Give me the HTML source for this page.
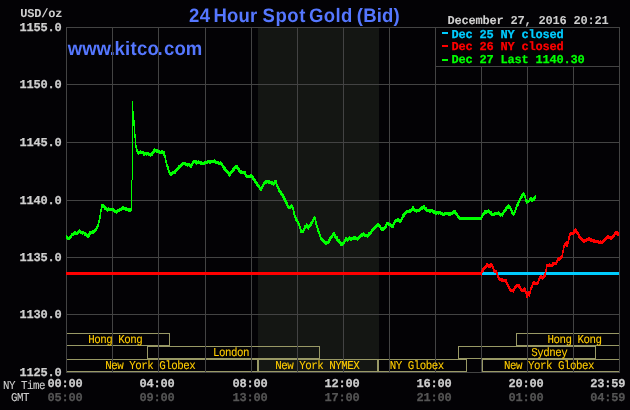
<!DOCTYPE html>
<html lang="en">
<head>
<meta charset="utf-8">
<title>24 Hour Spot Gold (Bid)</title>
<style>
html,body{margin:0;padding:0;background:#030205;}
svg{display:block;}
text{text-rendering:geometricPrecision;}
.b7{font-family:"Liberation Mono",monospace;font-weight:bold;font-size:12px;letter-spacing:-0.2px;stroke-width:0.25px;}
.r7{font-family:"Liberation Mono",monospace;font-size:12px;letter-spacing:-0.2px;stroke-width:0.3px;}
.r6{font-family:"Liberation Mono",monospace;font-size:12px;letter-spacing:-0.533px;stroke-width:0.1px;}
.ttl{font-family:"Liberation Sans",Arial,sans-serif;font-weight:bold;}
</style>
</head>
<body>
<svg width="630" height="410" viewBox="0 0 630 410">
<rect x="0" y="0" width="630" height="410" fill="#030205"/>
<rect x="258" y="28" width="121" height="344" fill="#141613" shape-rendering="crispEdges"/>
<text class="ttl" transform="scale(0.95 1)" y="55" font-size="19.5" fill="#5577ff"><tspan x="71.37">www</tspan><tspan x="115.47">.</tspan><tspan x="120.42" letter-spacing="0.34">kitco</tspan><tspan x="165.89">.</tspan><tspan x="172.74">com</tspan></text>
<g stroke="#434343" stroke-width="1" shape-rendering="crispEdges" fill="none">
<line x1="66" y1="27.5" x2="620" y2="27.5"/>
<line x1="66" y1="84.5" x2="620" y2="84.5"/>
<line x1="66" y1="142.5" x2="620" y2="142.5"/>
<line x1="66" y1="200.5" x2="620" y2="200.5"/>
<line x1="66" y1="257.5" x2="620" y2="257.5"/>
<line x1="66" y1="314.5" x2="620" y2="314.5"/>
<line x1="66" y1="372.5" x2="620" y2="372.5"/>
</g>
<g stroke="#999966" stroke-width="1" shape-rendering="crispEdges" fill="none">
<rect x="66.5" y="333.5" width="103" height="12"/>
<rect x="516.5" y="333.5" width="103" height="12"/>
<rect x="147.5" y="346.5" width="172" height="12"/>
<rect x="458.5" y="346.5" width="137" height="12"/>
<rect x="66.5" y="359.5" width="191" height="12"/>
<rect x="258.5" y="359.5" width="119" height="12"/>
<rect x="378.5" y="359.5" width="88" height="12"/>
<rect x="482.5" y="359.5" width="137" height="12"/>
</g>
<g stroke="#434343" stroke-width="1" shape-rendering="crispEdges" fill="none">
<line x1="66.5" y1="27" x2="66.5" y2="373"/>
<line x1="112.5" y1="27" x2="112.5" y2="373"/>
<line x1="158.5" y1="27" x2="158.5" y2="373"/>
<line x1="205.5" y1="27" x2="205.5" y2="373"/>
<line x1="251.5" y1="27" x2="251.5" y2="373"/>
<line x1="297.5" y1="27" x2="297.5" y2="373"/>
<line x1="343.5" y1="27" x2="343.5" y2="373"/>
<line x1="389.5" y1="27" x2="389.5" y2="373"/>
<line x1="435.5" y1="27" x2="435.5" y2="373"/>
<line x1="481.5" y1="27" x2="481.5" y2="373"/>
<line x1="527.5" y1="27" x2="527.5" y2="373"/>
<line x1="573.5" y1="27" x2="573.5" y2="373"/>
<line x1="619.5" y1="27" x2="619.5" y2="373"/>
</g>
<text class="ttl" transform="scale(0.95 1)" y="22" font-size="19.5" fill="#5577ff"><tspan x="198.95" letter-spacing="0.42">24</tspan> <tspan x="224.63" letter-spacing="0.21">Hour</tspan> <tspan x="276.32" letter-spacing="0.63">Spot</tspan> <tspan x="325.26" letter-spacing="0.39">Gold</tspan> <tspan x="375.58" letter-spacing="0.18">(Bid)</tspan></text>
<text class="r6" transform="translate(88.2 342.9) scale(0.9 1)" fill="#ffcc00" stroke="#ffcc00">Hong Kong</text>
<text class="r6" transform="translate(547.5 342.9) scale(0.9 1)" fill="#ffcc00" stroke="#ffcc00">Hong Kong</text>
<text class="r6" transform="translate(213 355.9) scale(0.9 1)" fill="#ffcc00" stroke="#ffcc00">London</text>
<text class="r6" transform="translate(531.3 355.9) scale(0.9 1)" fill="#ffcc00" stroke="#ffcc00">Sydney</text>
<text class="r6" transform="translate(105.3 368.9) scale(0.9 1)" fill="#ffcc00" stroke="#ffcc00">New York Globex</text>
<text class="r6" transform="translate(275.3 368.9) scale(0.9 1)" fill="#ffcc00" stroke="#ffcc00">New York NYMEX</text>
<text class="r6" transform="translate(389.7 368.9) scale(0.9 1)" fill="#ffcc00" stroke="#ffcc00">NY Globex</text>
<text class="r6" transform="translate(504.1 368.9) scale(0.9 1)" fill="#ffcc00" stroke="#ffcc00">New York Globex</text>
<text class="b7" x="19.5" y="30.9" fill="#cecece" stroke="#cecece">1155.0</text>
<text class="b7" x="19.5" y="87.9" fill="#cecece" stroke="#cecece">1150.0</text>
<text class="b7" x="19.5" y="145.9" fill="#cecece" stroke="#cecece">1145.0</text>
<text class="b7" x="19.5" y="203.9" fill="#cecece" stroke="#cecece">1140.0</text>
<text class="b7" x="19.5" y="260.9" fill="#cecece" stroke="#cecece">1135.0</text>
<text class="b7" x="19.5" y="317.9" fill="#cecece" stroke="#cecece">1130.0</text>
<text class="b7" x="19.5" y="375.9" fill="#cecece" stroke="#cecece">1125.0</text>
<text class="b7" x="47.5" y="386.9" fill="#cecece" stroke="#cecece">00:00</text>
<text class="b7" x="47.5" y="400.9" fill="#555555" stroke="#555555">05:00</text>
<text class="b7" x="139.5" y="386.9" fill="#cecece" stroke="#cecece">04:00</text>
<text class="b7" x="139.5" y="400.9" fill="#555555" stroke="#555555">09:00</text>
<text class="b7" x="232.5" y="386.9" fill="#cecece" stroke="#cecece">08:00</text>
<text class="b7" x="232.5" y="400.9" fill="#555555" stroke="#555555">13:00</text>
<text class="b7" x="324.5" y="386.9" fill="#cecece" stroke="#cecece">12:00</text>
<text class="b7" x="324.5" y="400.9" fill="#555555" stroke="#555555">17:00</text>
<text class="b7" x="416.5" y="386.9" fill="#cecece" stroke="#cecece">16:00</text>
<text class="b7" x="416.5" y="400.9" fill="#555555" stroke="#555555">21:00</text>
<text class="b7" x="508.5" y="386.9" fill="#cecece" stroke="#cecece">20:00</text>
<text class="b7" x="508.5" y="400.9" fill="#555555" stroke="#555555">01:00</text>
<text class="b7" x="590.3" y="386.9" fill="#cecece" stroke="#cecece">23:59</text>
<text class="b7" x="590.3" y="400.9" fill="#555555" stroke="#555555">04:59</text>
<text class="b7" style="stroke-width:0" x="20.3" y="16.9" fill="#cecece" stroke="#cecece">USD/oz</text>
<text class="r6" transform="translate(3.0 388.9) scale(0.9 1)" fill="#cecece" stroke="#cecece">NY Time</text>
<text class="r6" transform="translate(11.0 400.9) scale(0.9 1)" fill="#cecece" stroke="#cecece">GMT</text>
<rect x="66" y="272" width="416" height="3" fill="#ff0000" shape-rendering="crispEdges"/>
<rect x="482" y="272" width="137" height="3" fill="#00ccff" shape-rendering="crispEdges"/>
<path fill="none" stroke="#ff0000" stroke-width="1" shape-rendering="crispEdges" d="M481.5 270V276M482.5 268V273M483.5 267V272M484.5 266V270M485.5 265V269M486.5 263V268M487.5 263V267M488.5 264V268M489.5 264V268M490.5 263V268M491.5 263V267M492.5 264V269M493.5 266V272M494.5 269V273M495.5 270V273M496.5 270V275M497.5 272V278M498.5 275V280M499.5 277V281M500.5 278V281M501.5 278V282M502.5 278V282M503.5 279V282M504.5 279V282M505.5 279V283M506.5 279V285M507.5 282V287M508.5 284V289M509.5 286V291M510.5 288V292M511.5 289V292M512.5 289V292M513.5 288V293M514.5 286V291M515.5 285V289M516.5 284V288M517.5 284V287M518.5 284V288M519.5 284V289M520.5 286V291M521.5 288V292M522.5 289V292M523.5 288V292M524.5 287V292M525.5 288V294M526.5 291V298M527.5 292V298M528.5 291V296M529.5 291V297M530.5 287V294M531.5 285V290M532.5 282V288M533.5 281V285M534.5 281V285M535.5 282V285M536.5 282V285M537.5 281V285M538.5 278V284M539.5 276V281M540.5 275V279M541.5 275V279M542.5 276V280M543.5 275V279M544.5 273V278M545.5 269V277M546.5 264V272M547.5 264V267M548.5 264V267M549.5 263V267M550.5 264V267M551.5 264V267M552.5 262V267M553.5 262V266M554.5 262V265M555.5 262V265M556.5 260V265M557.5 258V263M558.5 257V261M559.5 257V261M560.5 256V260M561.5 255V259M562.5 250V258M563.5 245V253M564.5 243V248M565.5 242V246M566.5 241V247M567.5 241V247M568.5 236V244M569.5 233V240M570.5 232V236M571.5 232V235M572.5 232V235M573.5 230V235M574.5 229V234M575.5 228V233M576.5 229V234M577.5 231V235M578.5 232V238M579.5 234V239M580.5 236V240M581.5 237V241M582.5 238V242M583.5 239V243M584.5 239V243M585.5 239V242M586.5 238V242M587.5 238V241M588.5 237V241M589.5 237V241M590.5 238V242M591.5 238V242M592.5 239V242M593.5 239V243M594.5 239V243M595.5 240V243M596.5 240V243M597.5 240V243M598.5 240V244M599.5 241V244M600.5 240V244M601.5 241V244M602.5 240V244M603.5 239V243M604.5 238V242M605.5 237V241M606.5 236V240M607.5 235V239M608.5 235V239M609.5 236V239M610.5 236V240M611.5 236V240M612.5 235V239M613.5 234V238M614.5 232V237M615.5 231V235M616.5 231V235M617.5 231V236M618.5 232V236"/>
<path fill="none" stroke="#00ff00" stroke-width="1" shape-rendering="crispEdges" d="M66.5 235V239M67.5 236V240M68.5 237V240M69.5 236V240M70.5 235V239M71.5 233V238M72.5 233V236M73.5 232V236M74.5 231V235M75.5 231V235M76.5 232V235M77.5 231V235M78.5 230V234M79.5 229V233M80.5 230V234M81.5 231V234M82.5 231V235M83.5 231V234M84.5 232V236M85.5 232V236M86.5 233V237M87.5 234V238M88.5 233V238M89.5 231V237M90.5 231V235M91.5 231V234M92.5 230V234M93.5 230V234M94.5 229V233M95.5 228V232M96.5 226V231M97.5 224V229M98.5 220V227M99.5 215V223M100.5 209V219M101.5 204V212M102.5 204V208M103.5 204V208M104.5 205V210M105.5 206V210M106.5 207V211M107.5 208V212M108.5 207V211M109.5 208V211M110.5 208V211M111.5 208V211M112.5 208V211M113.5 208V212M114.5 209V213M115.5 210V213M116.5 210V214M117.5 209V213M118.5 209V212M119.5 208V212M120.5 208V211M121.5 207V211M122.5 206V210M123.5 206V210M124.5 207V210M125.5 207V211M126.5 207V211M127.5 208V211M128.5 208V212M129.5 208V212M130.5 208V212M131.5 180V211"/>
<path fill="none" stroke="#00ff00" stroke-width="1" shape-rendering="crispEdges" d="M132.5 101V180M133.5 111V126M134.5 120V138M135.5 134V148M136.5 145V152M137.5 149V154M138.5 151V155M139.5 151V154M140.5 150V154M141.5 151V154M142.5 151V154M143.5 151V156M144.5 152V156M145.5 152V155M146.5 152V156M147.5 152V155M148.5 152V156M149.5 153V156M150.5 153V157M151.5 152V156M152.5 151V156M153.5 149V154M154.5 148V153M155.5 149V152M156.5 149V153M157.5 149V153M158.5 150V153M159.5 150V154M160.5 151V154M161.5 150V154M162.5 150V154M163.5 151V156M164.5 151V158M165.5 155V163M166.5 160V167M167.5 164V170M168.5 166V173M169.5 170V175M170.5 172V176M171.5 172V176M172.5 171V175M173.5 171V174M174.5 170V174M175.5 169V174M176.5 168V172M177.5 167V171M178.5 165V170M179.5 165V169M180.5 164V168M181.5 163V167M182.5 162V166M183.5 162V165M184.5 162V165M185.5 162V166M186.5 163V166M187.5 163V167M188.5 163V166M189.5 163V167M190.5 164V168M191.5 163V168M192.5 161V166M193.5 160V164M194.5 160V163M195.5 160V164M196.5 160V165M197.5 161V164M198.5 160V164M199.5 161V164M200.5 161V165M201.5 161V165M202.5 162V165M203.5 162V165M204.5 161V165M205.5 161V164M206.5 161V164M207.5 160V164M208.5 160V163M209.5 160V164M210.5 160V164M211.5 160V163M212.5 160V163M213.5 160V163M214.5 159V163M215.5 160V164M216.5 161V164M217.5 161V164M218.5 161V165M219.5 162V165M220.5 161V165M221.5 162V166M222.5 163V168M223.5 165V170M224.5 166V171M225.5 167V172M226.5 169V173M227.5 170V174M228.5 171V176M229.5 172V177M230.5 171V176M231.5 170V174M232.5 168V173M233.5 167V172M234.5 166V171M235.5 165V169M236.5 165V169M237.5 165V170M238.5 167V172M239.5 168V173M240.5 170V174M241.5 170V174M242.5 171V174M243.5 171V174M244.5 171V175M245.5 171V177M246.5 174V178M247.5 175V178M248.5 175V178M249.5 175V178M250.5 174V178M251.5 174V178M252.5 175V180M253.5 176V181M254.5 178V183M255.5 179V184M256.5 181V186M257.5 182V187M258.5 184V188M259.5 185V190M260.5 187V191M261.5 186V191M262.5 184V189M263.5 182V187M264.5 181V185M265.5 180V184M266.5 180V184M267.5 180V183M268.5 180V184M269.5 180V184M270.5 181V184M271.5 181V185M272.5 181V185M273.5 182V186M274.5 180V185M275.5 180V184M276.5 180V187M277.5 184V189M278.5 186V192M279.5 188V193M280.5 190V195M281.5 191V196M282.5 193V198M283.5 194V200M284.5 196V202M285.5 198V204M286.5 200V206M287.5 202V208M288.5 205V209M289.5 206V209M290.5 205V209M291.5 204V208M292.5 205V210M293.5 207V215M294.5 211V218M295.5 215V221M296.5 217V222M297.5 219V224M298.5 221V226M299.5 223V229M300.5 226V233M301.5 229V233M302.5 230V233M303.5 228V233M304.5 225V231M305.5 225V229M306.5 223V228M307.5 224V229M308.5 225V230M309.5 224V228M310.5 222V227M311.5 221V226M312.5 219V224M313.5 217V222M314.5 216V220M315.5 217V225M316.5 221V228M317.5 225V232M318.5 228V234M319.5 231V237M320.5 234V240M321.5 237V241M322.5 238V242M323.5 239V243M324.5 240V244M325.5 241V245M326.5 241V245M327.5 241V244M328.5 239V244M329.5 237V243M330.5 236V241M331.5 235V239M332.5 233V238M333.5 232V236M334.5 232V238M335.5 234V239M336.5 236V241M337.5 236V242M338.5 239V243M339.5 239V244M340.5 241V246M341.5 242V246M342.5 242V246M343.5 241V245M344.5 239V244M345.5 237V242M346.5 237V241M347.5 238V242M348.5 237V241M349.5 236V240M350.5 237V241M351.5 237V241M352.5 237V240M353.5 236V240M354.5 236V240M355.5 236V240M356.5 237V240M357.5 237V241M358.5 236V240M359.5 235V239M360.5 234V238M361.5 233V237M362.5 233V237M363.5 232V236M364.5 233V237M365.5 234V237M366.5 234V237M367.5 234V238M368.5 232V237M369.5 232V236M370.5 231V235M371.5 229V234M372.5 228V232M373.5 227V231M374.5 226V230M375.5 225V229M376.5 224V228M377.5 223V227M378.5 223V227M379.5 224V228M380.5 225V230M381.5 227V231M382.5 227V231M383.5 227V231M384.5 226V230M385.5 224V229M386.5 222V228M387.5 222V225M388.5 222V226M389.5 223V226M390.5 223V227M391.5 224V228M392.5 224V228M393.5 222V228M394.5 220V225M395.5 219V223M396.5 219V222M397.5 218V222M398.5 218V222M399.5 219V223M400.5 219V223M401.5 217V222M402.5 214V220M403.5 213V218M404.5 212V217M405.5 211V215M406.5 210V214M407.5 210V213M408.5 210V213M409.5 209V213M410.5 209V213M411.5 208V212M412.5 206V211M413.5 206V211M414.5 208V212M415.5 209V212M416.5 209V213M417.5 209V212M418.5 209V212M419.5 208V212M420.5 207V211M421.5 206V210M422.5 206V210M423.5 205V209M424.5 205V210M425.5 207V211M426.5 207V212M427.5 209V212M428.5 209V212M429.5 209V213M430.5 209V213M431.5 209V212M432.5 209V213M433.5 210V214M434.5 210V214M435.5 211V215M436.5 211V215M437.5 211V214M438.5 211V215M439.5 211V214M440.5 211V215M441.5 212V215M442.5 212V216M443.5 213V216M444.5 212V216M445.5 212V215M446.5 212V215M447.5 212V215M448.5 212V216M449.5 212V216M450.5 212V216M451.5 212V215M452.5 211V215M453.5 210V214M454.5 210V214M455.5 210V215M456.5 212V216M457.5 213V218M458.5 215V219M459.5 216V220M460.5 217V220M461.5 217V220M462.5 217V220M463.5 217V220M464.5 217V220M465.5 217V220M466.5 217V220M467.5 217V220M468.5 217V220M469.5 217V220M470.5 217V220M471.5 217V220M472.5 217V220M473.5 217V220M474.5 217V220M475.5 217V220M476.5 217V220M477.5 217V220M478.5 217V220M479.5 217V220M480.5 217V220M481.5 215V220M482.5 213V218M483.5 212V216M484.5 210V215M485.5 210V214M486.5 210V214M487.5 210V213M488.5 209V213M489.5 210V214M490.5 211V215M491.5 211V216M492.5 213V216M493.5 213V216M494.5 212V216M495.5 212V215M496.5 212V215M497.5 212V215M498.5 211V215M499.5 212V216M500.5 213V217M501.5 213V216M502.5 212V217M503.5 210V215M504.5 209V213M505.5 207V212M506.5 206V211M507.5 205V209M508.5 204V209M509.5 205V209M510.5 206V211M511.5 208V214M512.5 210V215M513.5 212V216M514.5 210V215M515.5 207V213M516.5 204V210M517.5 202V207M518.5 200V206M519.5 198V203M520.5 196V201M521.5 194V199M522.5 193V198M523.5 192V196M524.5 193V198M525.5 195V202M526.5 199V204M527.5 200V203M528.5 200V203M529.5 198V202M530.5 197V201M531.5 197V202M532.5 198V202M533.5 197V201M534.5 196V201M535.5 195V199"/>
<rect x="435.5" y="27.5" width="184" height="39" fill="#030205" stroke="#434343" stroke-width="1" shape-rendering="crispEdges"/>
<text class="b7" style="stroke-width:0.05px" x="447.5" y="23.9" fill="#cecece" stroke="#cecece">December 27, 2016 20:21</text>
<rect x="442" y="32" width="6" height="2" fill="#00ccff" shape-rendering="crispEdges"/>
<text class="b7" x="451.5" y="37.9" fill="#00ccff" stroke="#00ccff">Dec 25 NY closed</text>
<rect x="442" y="45" width="6" height="2" fill="#ff0000" shape-rendering="crispEdges"/>
<text class="b7" x="451.5" y="49.9" fill="#ff0000" stroke="#ff0000">Dec 26 NY closed</text>
<rect x="442" y="59" width="6" height="2" fill="#00ff00" shape-rendering="crispEdges"/>
<text class="b7" x="451.5" y="62.9" fill="#00ff00" stroke="#00ff00">Dec 27 Last 1140.30</text>
</svg>
</body>
</html>
